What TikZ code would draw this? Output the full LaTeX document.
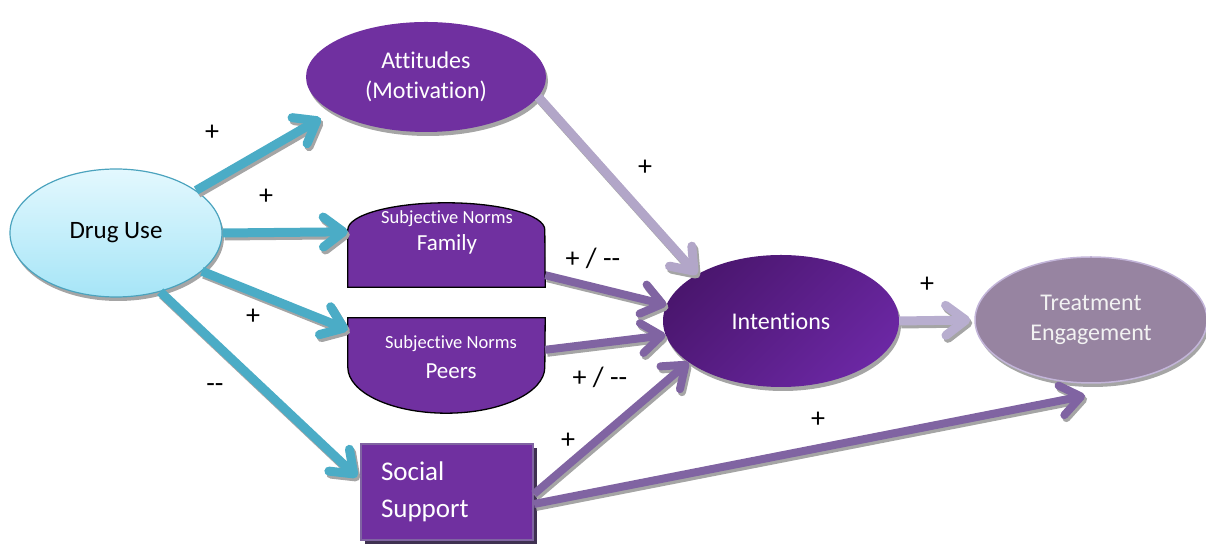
\documentclass[tikz,border=0pt]{standalone}
\usepackage{fontspec}
\setmainfont{Carlito}[Ligatures={TeX,NoCommon}]
\usetikzlibrary{arrows.meta,shapes.geometric,shadows,calc}
\definecolor{shadowgray}{HTML}{A5A5A5}
\definecolor{cyanarr}{HTML}{4BACC6}
\definecolor{purparr}{HTML}{8064A2}
\definecolor{lavarr}{HTML}{B2A6C8}
\definecolor{lavarrb}{HTML}{B8AECF}
\definecolor{mainpurple}{HTML}{7030A0}
\definecolor{intA}{HTML}{4A166E}
\definecolor{intB}{HTML}{6B27A3}
\definecolor{tefill}{HTML}{9784A1}
\definecolor{teborder}{HTML}{C3B5D9}
\definecolor{drugtop}{HTML}{E3F8FE}
\definecolor{drugbot}{HTML}{A6E5F7}
\definecolor{drugborder}{HTML}{4BA3BE}
\definecolor{socshadow}{HTML}{3F3151}
\newcommand\sarrow[3]{%
  \draw[#1,draw=shadowgray,transform canvas={xshift=2pt,yshift=-3pt}] #2 -- #3;
  \draw[#1] #2 -- #3;}
\begin{document}
\begin{tikzpicture}[x=1pt,y=1pt,
  lbl/.style={font=\fontsize{28}{32}\selectfont, text=black, inner sep=0},
  gshadow/.style={drop shadow={shadow xshift=2pt,shadow yshift=-4pt,fill=shadowgray,opacity=1}},
  arrbase/.style={-{Straight Barb[length=20pt,width=30pt,round]}},
  arrcyan/.style={arrbase, line width=9pt, draw=cyanarr},
  arrpurp/.style={arrbase, line width=8pt, draw=purparr},
  arrlav/.style={arrbase, line width=9pt, draw=lavarr},
  arrlavb/.style={arrbase, line width=9pt, draw=lavarrb},
  ellbase/.style={ellipse, inner sep=0, align=center},
  bigtext/.style={font=\fontsize{24}{30}\selectfont},
  normbox/.style={fill=mainpurple, draw=black, line width=1.3pt},
  normsmall/.style={text=white, inner sep=0, font=\fontsize{18.5}{22}\selectfont},
  normbig/.style={text=white, inner sep=0, font=\fontsize{23}{27}\selectfont}
]
\useasboundingbox (0,0) rectangle (1206,545);

% nodes
\node[ellbase, gshadow, minimum width=212pt, minimum height=128pt,
      draw=drugborder, line width=1.2pt, top color=drugtop, bottom color=drugbot,
      font=\fontsize{25}{30}\selectfont, text=black] (drug) at (116,312) {Drug Use};

\node[ellbase, gshadow, minimum width=240pt, minimum height=110pt,
      fill=mainpurple, text=white, bigtext] (att) at (426,468) {Attitudes\\(Motivation)};

\node[ellbase, gshadow, minimum width=236pt, minimum height=132pt,
      top color=intA, bottom color=intB, shading angle=45,
      text=white, bigtext] (int) at (781,224) {Intentions};

\node[ellbase, gshadow, minimum width=232pt, minimum height=126pt,
      fill=tefill, draw=teborder, line width=1.5pt,
      text=white!95!black, bigtext] (te) at (1091,225) {Treatment\\Engagement};

% subjective norms family
\node[minimum width=197pt, minimum height=57pt, inner sep=0] (famshape) at (446.5,286.5) {};
\path[normbox] (famshape.south west) -- (famshape.north west)
  arc[start angle=180,end angle=0,x radius=98.5,y radius=27] -- (famshape.south east) -- cycle;
\node[normsmall] (famtitle) at (447,326) {Subjective Norms};
\node[normbig] (famname) at (447,301) {Family};

% subjective norms peers
\node[minimum width=197pt, minimum height=49pt, inner sep=0] (peersshape) at (446.5,202.5) {};
\path[normbox] (peersshape.north west) -- (peersshape.south west)
  arc[start angle=180,end angle=360,x radius=98.5,y radius=46] -- (peersshape.north east) -- cycle;
\node[normsmall] (peerstitle) at (451,201) {Subjective Norms};
\node[normbig] (peersname) at (451,174) {Peers};

% social support
\node[rectangle, minimum width=172pt, minimum height=96pt, text width=132pt,
      inner xsep=20pt, inner ysep=0pt, align=left, fill=mainpurple, draw=purparr, line width=2pt,
      drop shadow={shadow xshift=4pt,shadow yshift=-4pt,fill=socshadow,opacity=1},
      text=white, font=\fontsize{27}{37}\selectfont] (soc) at (447,53) {Social\\Support};

% connectors
\sarrow{arrcyan}{(drug.28)}{($(att.201)+(-13,-6)$)}
\sarrow{arrcyan}{(drug.east)}{($(famshape.north west)+(0,-2)$)}
\sarrow{arrcyan}{(drug.-24)}{($(peersshape.north west)+(0,-12)$)}
\sarrow{arrcyan}{(drug.-53)}{($(soc.north west)+(-3,-34)$)}
\sarrow{arrlav}{(att.-10)}{(int.151)}
\sarrow{arrpurp}{($(famshape.south east)+(0,12)$)}{(int.172)}
\sarrow{arrpurp}{($(peersshape.north east)+(0,-32)$)}{(int.187)}
\sarrow{arrpurp}{($(soc.east)+(0,-2)$)}{(int.204)}
\sarrow{arrpurp}{($(soc.east)+(0,-12)$)}{($(te.south)+(-6,-12)$)}
\sarrow{arrlavb}{(int.east)}{($(te.west)+(-4,0)$)}

% labels
\node[lbl] (l1) at (212,412) {+};
\node[lbl] (l2) at (266,348) {+};
\node[lbl] (l3) at (253,228) {+};
\node[lbl] (l4) at (215,157) {-{}-};
\node[lbl] (l5) at (645,377) {+};
\node[lbl] (l6) at (593,287) {+ / -{}-};
\node[lbl] (l7) at (600,168) {+ / -{}-};
\node[lbl] (l8) at (568,104) {+};
\node[lbl] (l9) at (818,125) {+};
\node[lbl] (l10) at (927,260) {+};
\end{tikzpicture}
\end{document}
